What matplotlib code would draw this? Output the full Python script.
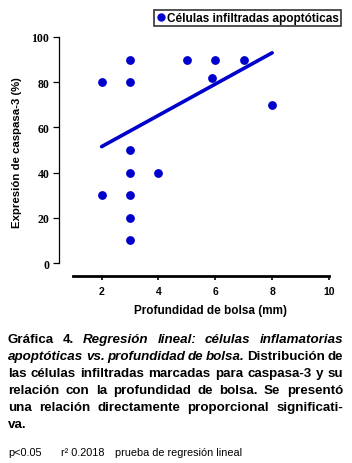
import matplotlib
matplotlib.use("Agg")
import matplotlib.pyplot as plt
from matplotlib.lines import Line2D

# ---- data ----
depth = [2, 2, 3, 3, 3, 3, 3, 3, 3, 4, 5, 6, 5.9, 7, 8]
caspase = [80, 30, 90, 80, 50, 40, 30, 20, 10, 40, 90, 90, 82, 90, 70]
trend_x = [2, 8]
trend_y = [51.5, 93]
xticks = [2, 4, 6, 8, 10]
yticks = [0, 20, 40, 60, 80, 100]
series_label = "Células infiltradas apoptóticas"
xlabel = "Profundidad de bolsa (mm)"
ylabel = "Expresión de caspasa-3 (%)"

W, H = 352, 464
DPI = 100
BLUE = "#0000cc"

fig = plt.figure(figsize=(W / DPI, H / DPI), dpi=DPI)
fig.patch.set_facecolor("white")

def fx(px):
    return px / W

def fy(py):
    return 1 - py / H

ax = fig.add_axes([fx(59), fy(277), fx(329) - fx(59), fy(38) - fy(277)])
ax.set_xlim(0.5, 10)
ax.set_ylim(-5.75, 100)

ax.plot(trend_x, trend_y, color=BLUE, lw=2.6, solid_capstyle="round", zorder=2)
ax.plot(depth, caspase, linestyle="none", marker="o", ms=5.3, color=BLUE, zorder=3)

for s in ["top", "right"]:
    ax.spines[s].set_visible(False)
ax.spines["left"].set_bounds(0, 100)
ax.spines["left"].set_linewidth(0.9)
ax.spines["bottom"].set_bounds(1, 10)
ax.spines["bottom"].set_linewidth(2.0)

ax.set_xticks(xticks)
ax.set_yticks(yticks)
ax.tick_params(axis="y", direction="out", length=4, width=0.9, pad=3)
ax.tick_params(axis="x", direction="out", length=3, width=1.2, pad=4)
for lab in ax.get_yticklabels():
    lab.set_fontfamily("Liberation Serif")
    lab.set_fontweight("bold")
    lab.set_fontsize(8.5)
for lab in ax.get_xticklabels():
    lab.set_fontfamily("Liberation Sans")
    lab.set_fontweight("bold")
    lab.set_fontsize(7.5)

fig.text(fx(210), fy(311), xlabel, ha="center", va="center",
         fontfamily="Liberation Sans", fontweight="bold", fontsize=8.5)
fig.text(fx(17), fy(153), ylabel, ha="center", va="center", rotation=90,
         fontfamily="Liberation Sans", fontweight="bold", fontsize=8.2)

handle = Line2D([], [], linestyle="none", marker="o", ms=5, color=BLUE)
leg = fig.legend([handle], [series_label], loc="upper right",
                 bbox_to_anchor=(fx(341), fy(11)), frameon=True, fancybox=False,
                 edgecolor="black", borderpad=0.15, handletextpad=0.0,
                 handlelength=1.0, borderaxespad=0,
                 prop={"family": "Liberation Sans", "weight": "bold", "size": 8.5})
leg.get_frame().set_linewidth(1.2)

# ---- caption (justified) ----
B = dict(fontweight="bold", fontstyle="normal")
BI = dict(fontweight="bold", fontstyle="italic")
lines = [
    [("Gráfica", B), ("4.", B), ("Regresión", BI), ("lineal:", BI),
     ("células", BI), ("inflamatorias", BI)],
    [("apoptóticas", BI), ("vs.", BI), ("profundidad", BI), ("de", BI),
     ("bolsa.", BI), ("Distribución", B), ("de", B)],
    [(w, B) for w in "las células infiltradas marcadas para caspasa-3 y su".split()],
    [(w, B) for w in "relación con la profundidad de bolsa. Se presentó".split()],
    [(w, B) for w in "una relación directamente proporcional significati-".split()],
    [("va.", B)],
]
left_px, right_px = 8, 343
base0, step = 343, 17
fsize = 9.6

fig.canvas.draw()
renderer = fig.canvas.get_renderer()

for i, line in enumerate(lines):
    yb = base0 + i * step
    items = []
    for txt, st in line:
        t = fig.text(0, fy(yb), txt, ha="left", va="baseline",
                     fontfamily="Liberation Sans", fontsize=fsize, **st)
        items.append((t, t.get_window_extent(renderer).width))
    total = sum(w for _, w in items)
    last = i == len(lines) - 1
    if len(items) > 1 and not last:
        gap = (right_px - left_px - total) / (len(items) - 1)
    else:
        gap = 4
    x = left_px
    for t, w in items:
        t.set_x(fx(x))
        x += w + gap

foot = dict(fontfamily="Liberation Sans", fontsize=7.8, ha="left", va="baseline")
fig.text(fx(8), fy(456), "p<0.05", **foot)
fig.text(fx(61), fy(456), "r² 0.2018", **foot)
fig.text(fx(115), fy(456), "prueba de regresión lineal", **foot)

fig.savefig("out.png", dpi=DPI, facecolor="white")
